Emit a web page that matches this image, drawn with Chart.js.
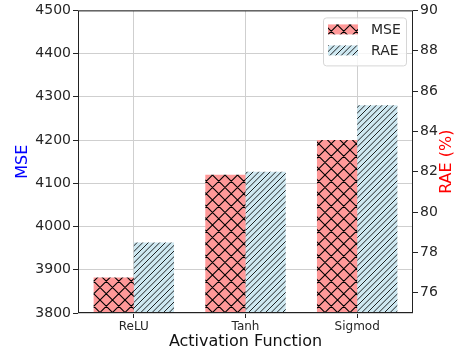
<!DOCTYPE html>
<html>
<head>
<meta charset="utf-8">
<script src="https://cdn.jsdelivr.net/npm/chart.js@4.4.1/dist/chart.umd.min.js"></script>
<style>
  html, body { margin: 0; padding: 0; background: #fff; }
  #wrap { width: 462px; height: 358px; }
</style>
</head>
<body>
<div id="wrap"><canvas id="myChart" width="462" height="358"></canvas></div>
<script>
const labels = ["ReLU", "Tanh", "Sigmod"];
const mse_val = [3882, 4120, 4200];
const rae_val = [78.5, 82.0, 85.3];
const mse_ticks = [3800, 3900, 4000, 4100, 4200, 4300, 4400, 4500];
const rae_ticks = [76, 78, 80, 82, 84, 86, 88, 90];

const FONT = "'DejaVu Sans', sans-serif";
const INK = "#262626";

// hatch patterns, tiles anchored to the canvas origin like matplotlib
function hatch(bg, kind) {
  const s = kind === "x" ? 25 : 17;
  const n = kind === "x" ? 2 : 3;
  const c = document.createElement("canvas");
  c.width = s;
  c.height = s;
  const g = c.getContext("2d");
  g.fillStyle = bg;
  g.fillRect(0, 0, s, s);
  g.strokeStyle = kind === "x" ? "#000" : "rgba(0,0,0,0.85)";
  g.lineWidth = kind === "x" ? 1.1 : 1;
  g.beginPath();
  const step = s / n;
  for (let k = -n; k <= 2 * n; k++) {
    const o = k * step;
    g.moveTo(o - s, s + s);
    g.lineTo(o + s + s, -s);
    if (kind === "x") {
      g.moveTo(o - s, -s);
      g.lineTo(o + s + s, s + s);
    }
  }
  g.stroke();
  return g.createPattern(c, "repeat");
}

const ctx = document.getElementById("myChart").getContext("2d");
const msePattern = hatch("#ff9999", "x");
const raePattern = hatch("#cee8f1", "/");

const frameAndLegend = {
  id: "frameAndLegend",
  afterDraw(chart) {
    const c = chart.ctx;
    const a = chart.chartArea;
    c.save();
    c.strokeStyle = "#222";
    c.lineWidth = 1;
    c.strokeRect(a.left + 0.5, a.top + 0.5, a.right - a.left - 1, a.bottom - a.top - 1);

    // legend box in upper right
    const bw = 83, bh = 48;
    const bx = a.right - 7 - bw, by = a.top + 7;
    c.beginPath();
    c.roundRect(bx + 0.5, by + 0.5, bw, bh, 3);
    c.fillStyle = "rgba(255,255,255,0.8)";
    c.fill();
    c.strokeStyle = "#d6d6d6";
    c.stroke();
    c.font = "14px " + FONT;
    c.textBaseline = "middle";
    chart.data.datasets.forEach((ds, i) => {
      const cy = by + 12 + i * 21;
      c.fillStyle = ds.backgroundColor;
      c.fillRect(bx + 5, cy - 5, 30, 10);
      c.fillStyle = INK;
      c.fillText(ds.label, bx + 48, cy + 1);
    });

    // right axis title, reading bottom to top
    const ry = chart.scales.y1;
    c.translate(447, (ry.top + ry.bottom) / 2);
    c.rotate(-Math.PI / 2);
    c.font = "16px " + FONT;
    c.fillStyle = "#ff0000";
    c.textAlign = "center";
    c.textBaseline = "middle";
    c.fillText("RAE (%)", 0, 0);
    c.restore();
  },
};

const config = {
  type: "bar",
  data: {
    labels: labels,
    datasets: [
      {
        label: "MSE",
        data: mse_val,
        yAxisID: "y",
        backgroundColor: msePattern,
        borderWidth: 0,
        categoryPercentage: 0.72,
        barPercentage: 1.0,
      },
      {
        label: "RAE",
        data: rae_val,
        yAxisID: "y1",
        backgroundColor: raePattern,
        borderWidth: 0,
        categoryPercentage: 0.72,
        barPercentage: 1.0,
      },
    ],
  },
  options: {
    responsive: false,
    animation: false,
    layout: { padding: { top: 7, left: 0, right: 0, bottom: 0 } },
    plugins: {
      legend: { display: false },
      tooltip: { enabled: false },
    },
    scales: {
      x: {
        offset: true,
        grid: {
          offset: false,
          color: "#cfcfcf",
          tickColor: INK,
          tickLength: 5,
        },
        border: { display: false },
        ticks: { color: INK, font: { family: FONT, size: 12 }, padding: 2 },
        title: {
          display: true,
          text: "Activation Function",
          color: "#111",
          font: { family: FONT, size: 16 },
          padding: { top: 0, bottom: 7 },
        },
        afterFit(scale) {
          scale.height = 45;
        },
      },
      y: {
        position: "left",
        min: 3800,
        max: 4500,
        z: 1,
        grid: { color: "#cfcfcf", tickColor: INK, tickLength: 5 },
        border: { display: false },
        ticks: {
          color: INK,
          font: { family: FONT, size: 14 },
          padding: 2,
          callback: (v) => String(v),
        },
        afterBuildTicks(scale) {
          scale.ticks = mse_ticks.map((v) => ({ value: v }));
        },
        title: {
          display: true,
          text: "MSE",
          color: "#0000ff",
          font: { family: FONT, size: 16 },
          padding: { top: 13, bottom: 0 },
        },
        afterFit(scale) {
          scale.width = 78;
        },
      },
      y1: {
        position: "right",
        min: 75,
        max: 90,
        grid: { drawOnChartArea: false, tickColor: INK, tickLength: 5 },
        border: { display: false },
        ticks: {
          color: INK,
          font: { family: FONT, size: 14 },
          padding: 2,
          callback: (v) => String(v),
        },
        afterBuildTicks(scale) {
          scale.ticks = rae_ticks.map((v) => ({ value: v }));
        },
        afterFit(scale) {
          scale.width = 49;
        },
      },
    },
  },
  plugins: [frameAndLegend],
};

const myChart = new Chart(document.getElementById("myChart"), config);
</script>
</body>
</html>
